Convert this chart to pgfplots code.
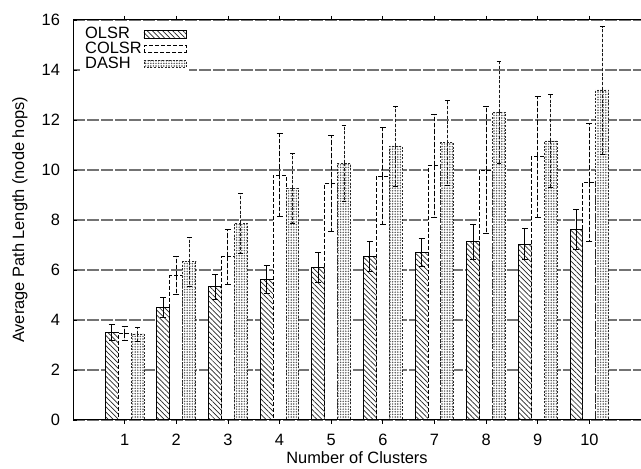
\documentclass[border=0pt]{standalone}
\usepackage{fontspec}
\setmainfont{Liberation Sans}
\usepackage{pgfplots}
\pgfplotsset{compat=1.18}
\usetikzlibrary{patterns,patterns.meta,calc}

\pgfplotsset{
  boxlegend/.style={legend image code/.code={
    \draw[##1] (0pt,-1.8pt) rectangle (21pt,1.8pt);}},
}

\begin{document}
\begin{tikzpicture}
\begin{axis}[
  name=ax,
  scale only axis,
  width=284pt, height=200pt,
  xmin=0, xmax=11,
  ymin=0, ymax=16,
  xtick={1,2,3,4,5,6,7,8,9,10},
  ytick={0,2,4,6,8,10,12,14,16},
  axis line style={draw=none},
  xtick pos=both,
  ytick pos=left,
  tick align=inside,
  major tick length=2pt,
  tick style={black, line width=0.4pt},
  ymajorgrids,
  grid style={black!55, line width=0.6pt, dash pattern=on 6pt off 1pt},
  font=\fontsize{8.2}{9}\selectfont,
  tick label style={font=\fontsize{8.2}{9}\selectfont},
  /pgf/number format/assume math mode=true,
  xticklabel style={yshift=-1.5pt},
  yticklabel style={xshift=-3pt},
  xlabel={Number of Clusters},
  ylabel={Average Path Length (node hops)},
  every axis x label/.style={at={(axis description cs:0.5,0)}, yshift=-19pt, anchor=center},
  every axis y label/.style={at={(axis description cs:0,0.5)}, xshift=-26.5pt, rotate=90, anchor=center},
  ybar,
  bar width=0.25,
  legend style={at={(rel axis cs:0,1)}, anchor=north west, xshift=3.5pt, yshift=-1pt,
    draw=none, fill=white, inner sep=1.5pt, row sep=-1.6pt,
    font=\fontsize{8.2}{8}\selectfont,
    nodes={inner sep=0.9pt}},
  legend cell align=left,
  legend plot pos=right,
  error bars/y dir=both,
  error bars/y explicit,
]
\addplot[bar shift=-0.25, draw=black, line width=0.45pt, fill=white,
  postaction={pattern={Lines[angle=-45,distance=1.8pt,line width=0.35pt]}, pattern color=black!85},
  boxlegend,
  error bars/error bar style={black, line width=0.45pt, solid},
  error bars/error mark options={rotate=90, mark size=1.5pt, black, solid}]
coordinates {
  (1,3.50) +- (0,0.32)
  (2,4.50) +- (0,0.40)
  (3,5.33) +- (0,0.49)
  (4,5.63) +- (0,0.55)
  (5,6.11) +- (0,0.60)
  (6,6.53) +- (0,0.60)
  (7,6.70) +- (0,0.57)
  (8,7.13) +- (0,0.70)
  (9,7.03) +- (0,0.62)
  (10,7.63) +- (0,0.80)
};
\addlegendentry{OLSR}
\addplot[bar shift=0, draw=black, line width=0.45pt, dash pattern=on 2pt off 1pt, fill=white,
  boxlegend,
  error bars/error bar style={black, line width=0.45pt, dash pattern=on 2.2pt off 1pt},
  error bars/error mark options={rotate=90, mark size=1.5pt, black, solid}]
coordinates {
  (1,3.47) +- (0,0.27)
  (2,5.77) +- (0,0.76)
  (3,6.53) +- (0,1.10)
  (4,9.80) +- (0,1.65)
  (5,9.47) +- (0,1.93)
  (6,9.76) +- (0,1.93)
  (7,10.17) +- (0,2.05)
  (8,10.00) +- (0,2.53)
  (9,10.53) +- (0,2.43)
  (10,9.50) +- (0,2.37)
};
\addlegendentry{COLSR}
\addplot[bar shift=0.25, draw=black!85, line width=0.45pt, dash pattern=on 1pt off 0.8pt, fill=white,
  postaction={pattern={Dots[distance=1.3pt,radius=0.42pt]}, pattern color=black!65},
  boxlegend,
  error bars/error bar style={black!90, line width=0.45pt, dash pattern=on 1.5pt off 0.9pt},
  error bars/error mark options={rotate=90, mark size=1.2pt, black, solid}]
coordinates {
  (1,3.44) +- (0,0.28)
  (2,6.33) +- (0,0.98)
  (3,7.87) +- (0,1.20)
  (4,9.27) +- (0,1.40)
  (5,10.27) +- (0,1.52)
  (6,10.96) +- (0,1.60)
  (7,11.09) +- (0,1.70)
  (8,12.31) +- (0,2.04)
  (9,11.16) +- (0,1.87)
  (10,13.20) +- (0,2.56)
};
\addlegendentry{DASH}
\coordinate (sw) at (rel axis cs:0,0);
\coordinate (ne) at (rel axis cs:1,1);
\draw[black, line width=0.5pt] (rel axis cs:1,0) -- (rel axis cs:0,0) -- (rel axis cs:0,1) -- (rel axis cs:1,1);
\end{axis}
\pgfresetboundingbox
\path[use as bounding box] ($(sw)+(-36.5pt,-24.5pt)$) rectangle ($(ne)+(0pt,10pt)$);
\end{tikzpicture}
\end{document}
